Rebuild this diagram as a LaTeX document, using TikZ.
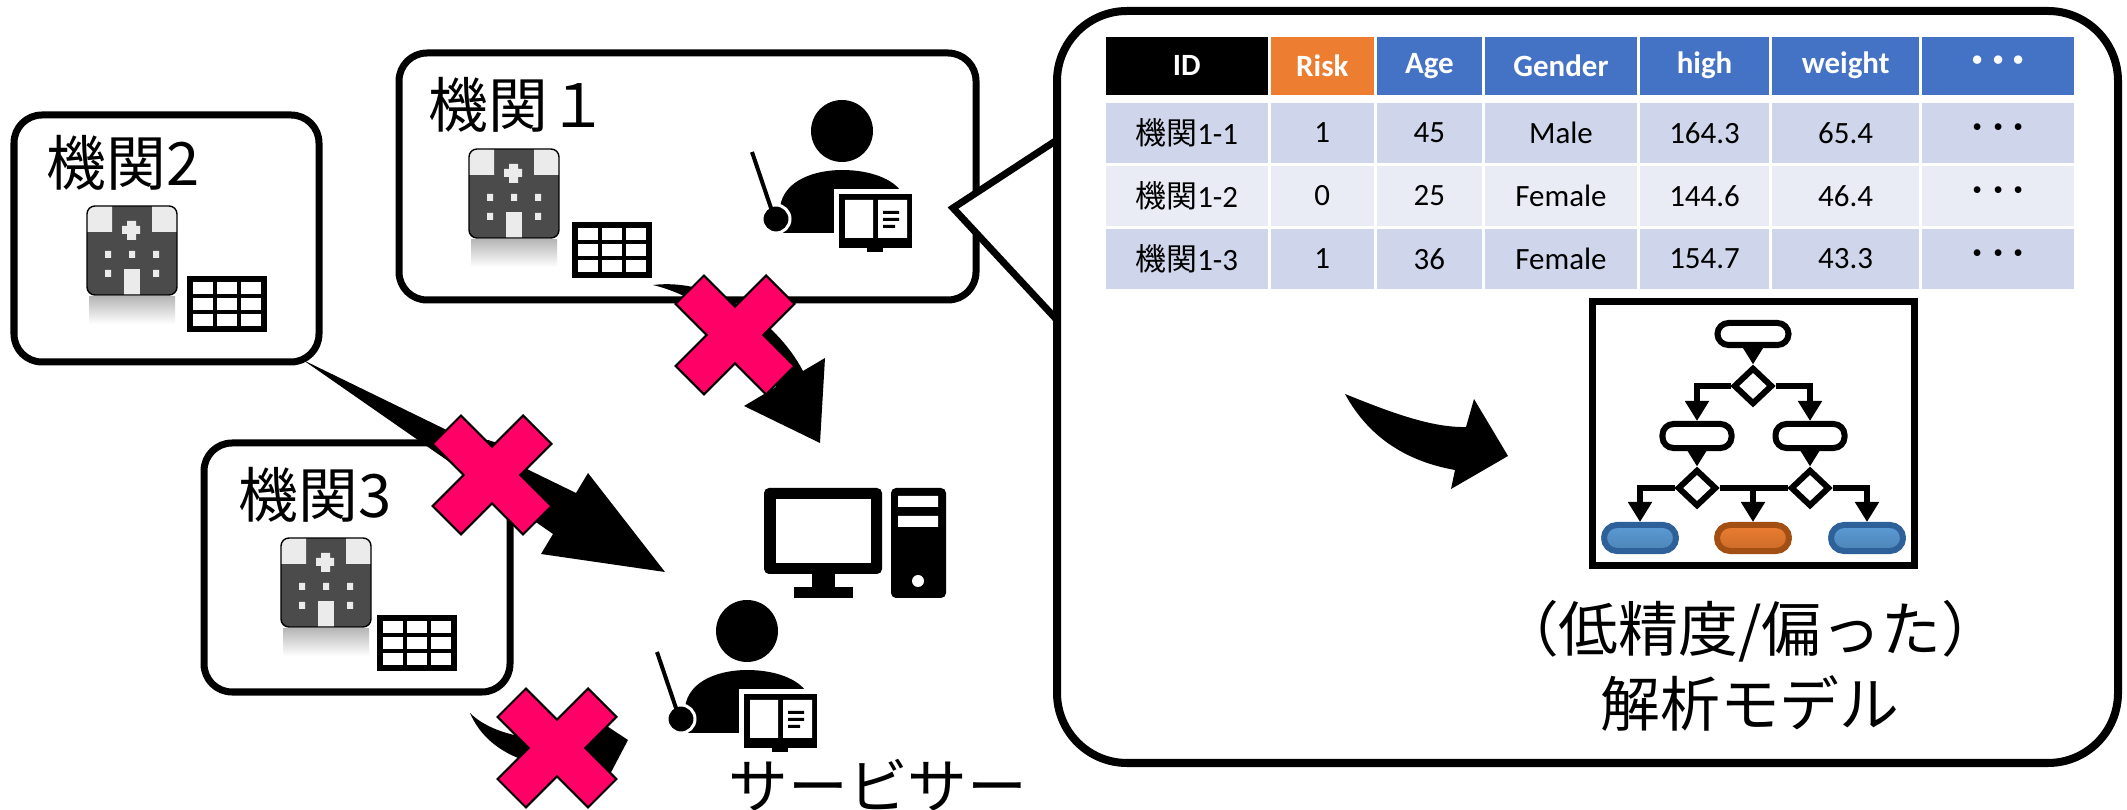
\documentclass[tikz,border=0pt]{standalone}
\usepackage{fontspec}
\setmainfont{Carlito}
\newfontfamily\jp{Noto Sans CJK JP}
\usepackage{xcolor}
\usepackage{tikz}
\usetikzlibrary{matrix,positioning,shapes.geometric,arrows.meta}

\definecolor{ngpink}{HTML}{FF0066}
\definecolor{hdblue}{HTML}{4472C4}
\definecolor{hdorange}{HTML}{ED7D31}
\definecolor{rowa}{HTML}{CFD5EA}
\definecolor{rowb}{HTML}{E9EBF5}
\definecolor{bldgray}{HTML}{4B4B4B}
\definecolor{bldlight}{HTML}{EBEBEB}
\definecolor{leafblue}{HTML}{5B9BD5}
\definecolor{leafblueD}{HTML}{2E6199}
\definecolor{leaforange}{HTML}{ED7D31}
\definecolor{leaforangeD}{HTML}{A34E12}

\newcommand{\tabfont}{\fontsize{8.8}{10}\selectfont}
\newcommand{\etc}{{\jp\fontsize{11.5}{11.5}\selectfont ･･･}}

% hospital building, top left corner at #1,#2
\newcommand{\hospital}[2]
{
	\begin{scope}[shift={(#1,#2)}]
		\shade[top color=black!28,bottom color=white] (2,91) rectangle (88,118);
		\begin{scope}
			\clip[rounded corners=0.08cm] (0,0) rectangle (90,89);
			\fill[bldgray] (0,0) rectangle (90,89);
			\fill[bldlight] (0,0) rectangle (25,26) (65,0) rectangle (90,26);
			\fill[bldlight] (40,15) rectangle (49,34) (35,20) rectangle (53,28);
			\fill[bldlight] (18,45) rectangle (24,52) (42,45) rectangle (48,52) (66,45) rectangle (72,52);
			\fill[bldlight] (18,64) rectangle (24,71) (66,64) rectangle (72,71);
			\fill[bldlight] (37,63) rectangle (53,89);
		\end{scope}
		\draw[line width=0.4pt,rounded corners=0.08cm] (0,0) rectangle (90,89);
	\end{scope}
}

% small 3x3 data table
\newcommand{\datagrid}[2]
{
	\begin{scope}[shift={(#1,#2)}]
		\fill[black] (0,0) rectangle (80,56);
		\foreach \i in {0,1,2}
			\foreach \j in {0,1,2}
				\fill[white] (6+24*\i,6+16*\j) rectangle ++(20,12);
	\end{scope}
}

% person with pointer and book, head centre at #1,#2
\newcommand{\teacher}[2]
{
	\begin{scope}[shift={(#1,#2)}]
		\fill (0,0) circle [radius=31];
		\fill (-62,102) -- (-62,76) .. controls (-58,48) and (-25,39) .. (0,39)
			.. controls (28,39) and (52,48) .. (60,62) -- (60,102) -- cycle;
		\filldraw[draw=white,line width=0.03cm] (-66,88) circle [radius=14];
		\draw[line width=0.04cm] (-90,21) -- (-70,80);
		\fill[white] (-8,58) rectangle (75,122);
		\fill (-3,63) rectangle (70,117);
		\fill (25,117) rectangle (41,121);
		\fill[white] (3,69) rectangle (31,107) (36,69) rectangle (65,107);
		\fill (41,80) rectangle (57,83) (41,87) rectangle (57,90) (41,94) rectangle (53,97);
	\end{scope}
}

% pink cross, centre at #1,#2
\newcommand{\nomark}[2]
{
	\filldraw[fill=ngpink,draw=black,line width=0.6pt,shift={(#1,#2)}]
		(0,-28.3) -- (31.1,-59.4) -- (59.4,-31.1) -- (28.3,0) -- (59.4,31.1) -- (31.1,59.4)
		-- (0,28.3) -- (-31.1,59.4) -- (-59.4,31.1) -- (-28.3,0) -- (-59.4,-31.1) -- (-31.1,-59.4) -- cycle;
}

\begin{document}
\begin{tikzpicture}[x=0.01cm,y=-0.01cm,
	orgbox/.style={draw=black,line width=0.07cm,fill=white,rounded corners=0.28cm},
	orglabel/.style={font=\jp\fontsize{17}{20}\selectfont,inner sep=0pt,anchor=west},
	pill/.style={draw=black,line width=0.06cm,fill=white,rounded corners=0.11cm,minimum width=0.71cm,minimum height=0.22cm,inner sep=0pt},
	blueleaf/.style={pill,draw=leafblueD,rounded corners=0.13cm,minimum width=0.72cm,minimum height=0.26cm,top color=leafblue,middle color=leafblue!40!white,bottom color=leafblue!85!black},
	orangeleaf/.style={pill,draw=leaforangeD,rounded corners=0.13cm,minimum width=0.72cm,minimum height=0.26cm,top color=leaforange,middle color=leaforange!40!white,bottom color=leaforange!85!black},
	dec/.style={diamond,draw=black,line width=0.06cm,fill=white,minimum width=0.39cm,minimum height=0.37cm,inner sep=0pt},
	tr/.style={line width=0.06cm,-{Triangle[width=0.23cm,length=0.2cm]}},
	cell/.style={inner sep=0pt,minimum height=0.6cm,font=\tabfont,anchor=center}
]
\useasboundingbox (0,0) rectangle (2127,810);

% institutions
\draw[orgbox] (14,115) rectangle (319,362);
\node[orglabel] (lab2) at (46,163) {機関2};
\hospital{87}{206}
\datagrid{187}{276}

\draw[orgbox] (399,53) rectangle (976,300);
\node[orglabel] (lab1) at (428,105) {機関１};
\hospital{469}{149}
\datagrid{572}{222}
\teacher{842}{131}

\draw[orgbox] (204,443) rectangle (510,692);
\node[orglabel] (lab3) at (238,495) {機関3};
\hospital{281}{538}
\datagrid{377}{615}

% blocked transfers
\fill (653,285) .. controls (712,278) and (775,318) .. (803,371) -- (825,358) -- (820,443)
	-- (744,406) -- (776,387) .. controls (748,335) and (705,298) .. (653,285) -- cycle;
\fill (303,360) -- (576,493) -- (588,473) -- (665,572) -- (541,554) -- (553,534) -- cycle;
\fill (470,713) .. controls (495,738) and (550,745) .. (595,735) -- (590,715) -- (628,740)
	-- (607,780) -- (603,764) .. controls (550,775) and (490,760) .. (470,713) -- cycle;
\nomark{735}{335}
\nomark{492}{475}
\nomark{557}{748}

% callout with data and model
\filldraw[fill=white,line width=0.07cm] (1057,140) -- (953,208) -- (1057,320);
\draw[line width=0.08cm,fill=white,rounded corners=0.7cm] (1057,11) rectangle (2118,763);

\matrix (tbl) [matrix of nodes, anchor=north west, inner sep=0pt,
	column sep=0.03cm, row sep=0.03cm, nodes={cell},
	row 1/.style={nodes={fill=hdblue,text=white,font=\tabfont\bfseries,minimum height=0.58cm}},
	row 2/.style={nodes={fill=rowa}},
	row 3/.style={nodes={fill=rowb}},
	row 4/.style={nodes={fill=rowa}},
	column 1/.style={nodes={minimum width=1.62cm}},
	column 2/.style={nodes={minimum width=1.03cm}},
	column 3/.style={nodes={minimum width=1.05cm}},
	column 4/.style={nodes={minimum width=1.52cm}},
	column 5/.style={nodes={minimum width=1.29cm}},
	column 6/.style={nodes={minimum width=1.47cm}},
	column 7/.style={nodes={minimum width=1.52cm}}
] at (1105,36) {
	|[fill=black]|ID & |[fill=hdorange]|Risk & Age & Gender & high & weight & \etc \\[0.05cm]
	{\jp 機関}1-1 & 1 & 45 & Male & 164.3 & 65.4 & \etc \\
	{\jp 機関}1-2 & 0 & 25 & Female & 144.6 & 46.4 & \etc \\
	{\jp 機関}1-3 & 1 & 36 & Female & 154.7 & 43.3 & \etc \\
};

\fill (1345,394) .. controls (1385,410) and (1430,428) .. (1466,427) -- (1474,399) -- (1508,456)
	-- (1451,489) -- (1455,470) .. controls (1410,462) and (1370,440) .. (1345,394) -- cycle;

\draw[line width=0.07cm,fill=white] (1592,302) rectangle (1914,566);
\node[pill] (t0) at (1753,334) {};
\node[dec] (d1) at (1753,386) {};
\node[pill,minimum width=0.69cm,minimum height=0.24cm] (m1) at (1697,436) {};
\node[pill,minimum width=0.69cm,minimum height=0.24cm] (m2) at (1810,436) {};
\node[dec] (d2) at (1697,488) {};
\node[dec] (d3) at (1810,488) {};
\node[blueleaf] (l1) at (1640,538) {};
\node[orangeleaf] (l2) at (1753,538) {};
\node[blueleaf] (l3) at (1867,538) {};
\draw[tr] (t0) -- (d1);
\draw[tr] (d1.west) -| (m1.north);
\draw[tr] (d1.east) -| (m2.north);
\draw[tr] (m1) -- (d2);
\draw[tr] (m2) -- (d3);
\draw[tr] (d2.west) -| (l1.north);
\draw[tr] (d3.east) -| (l3.north);
\draw[line width=0.06cm] (d2.east) -- (d3.west);
\draw[tr] (d2.east -| l2.north) -- (l2.north);

\node[font=\jp\fontsize{17}{21.3}\selectfont,align=center] (mdltxt) at (1750,666) {（低精度/偏った）\\解析モデル};

% server side
\fill[rounded corners=0.05cm] (764,488) rectangle (882,574);
\fill[white] (776,499) rectangle (871,563);
\fill (812,572) rectangle (835,588);
\fill (794,587) rectangle (853,598);
\fill[rounded corners=0.05cm] (891,488) rectangle (946,598);
\fill[white] (898,496) rectangle (938,507) (898,516) rectangle (938,527);
\fill[white] (918,581) circle [radius=6];
\teacher{747}{631}
\node[font=\jp\fontsize{17}{20}\selectfont,anchor=base,inner sep=0pt] (srvtxt) at (878,808) {サービサー};
\end{tikzpicture}
\end{document}
